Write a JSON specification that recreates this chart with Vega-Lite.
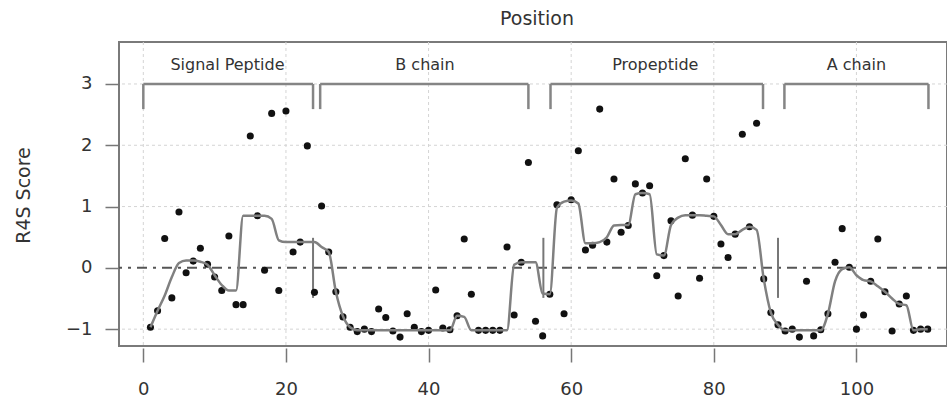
{
  "$schema": "https://vega.github.io/schema/vega-lite/v6.json",
  "width": 828,
  "height": 304,
  "autosize": {"type": "none"},
  "padding": {"left": 119, "top": 42, "right": 0, "bottom": 52},
  "config": {
    "font": "DejaVu Sans",
    "view": {"stroke": "#7a7a7a", "strokeWidth": 2}
  },
  "title": {
    "text": "Position",
    "anchor": "middle",
    "frame": "group",
    "orient": "top",
    "offset": -2,
    "dx": 4,
    "baseline": "alphabetic",
    "fontSize": 19,
    "fontWeight": "normal",
    "color": "#333333"
  },
  "datasets": {
    "r4s": [
      {"pos": 1, "score": -0.97, "smooth": -0.97},
      {"pos": 2, "score": -0.70, "smooth": -0.70},
      {"pos": 3, "score": 0.48, "smooth": -0.45},
      {"pos": 4, "score": -0.49, "smooth": -0.15},
      {"pos": 5, "score": 0.91, "smooth": 0.08},
      {"pos": 6, "score": -0.08, "smooth": 0.12},
      {"pos": 7, "score": 0.11, "smooth": 0.12},
      {"pos": 8, "score": 0.32, "smooth": 0.10},
      {"pos": 9, "score": 0.06, "smooth": 0.05},
      {"pos": 10, "score": -0.15, "smooth": -0.12},
      {"pos": 11, "score": -0.37, "smooth": -0.28},
      {"pos": 12, "score": 0.52, "smooth": -0.37},
      {"pos": 13, "score": -0.60, "smooth": -0.37},
      {"pos": 14, "score": -0.60, "smooth": 0.85},
      {"pos": 15, "score": 2.15, "smooth": 0.85},
      {"pos": 16, "score": 0.85, "smooth": 0.85},
      {"pos": 17, "score": -0.04, "smooth": 0.85},
      {"pos": 18, "score": 2.52, "smooth": 0.80},
      {"pos": 19, "score": -0.37, "smooth": 0.45},
      {"pos": 20, "score": 2.56, "smooth": 0.42},
      {"pos": 21, "score": 0.26, "smooth": 0.42},
      {"pos": 22, "score": 0.42, "smooth": 0.42},
      {"pos": 23, "score": 1.99, "smooth": 0.42},
      {"pos": 24, "score": -0.40, "smooth": 0.42},
      {"pos": 25, "score": 1.01, "smooth": 0.34},
      {"pos": 26, "score": 0.26, "smooth": 0.26},
      {"pos": 27, "score": -0.39, "smooth": -0.39},
      {"pos": 28, "score": -0.80, "smooth": -0.79},
      {"pos": 29, "score": -0.97, "smooth": -0.97},
      {"pos": 30, "score": -1.04, "smooth": -1.02},
      {"pos": 31, "score": -1.00, "smooth": -1.02},
      {"pos": 32, "score": -1.04, "smooth": -1.02},
      {"pos": 33, "score": -0.67, "smooth": -1.02},
      {"pos": 34, "score": -0.81, "smooth": -1.02},
      {"pos": 35, "score": -1.03, "smooth": -1.02},
      {"pos": 36, "score": -1.13, "smooth": -1.02},
      {"pos": 37, "score": -0.75, "smooth": -1.02},
      {"pos": 38, "score": -0.97, "smooth": -1.02},
      {"pos": 39, "score": -1.04, "smooth": -1.02},
      {"pos": 40, "score": -1.02, "smooth": -1.02},
      {"pos": 41, "score": -0.36, "smooth": -1.02},
      {"pos": 42, "score": -0.98, "smooth": -1.02},
      {"pos": 43, "score": -1.01, "smooth": -1.02},
      {"pos": 44, "score": -0.78, "smooth": -0.78},
      {"pos": 45, "score": 0.47, "smooth": -0.80},
      {"pos": 46, "score": -0.43, "smooth": -1.02},
      {"pos": 47, "score": -1.02, "smooth": -1.02},
      {"pos": 48, "score": -1.02, "smooth": -1.02},
      {"pos": 49, "score": -1.02, "smooth": -1.02},
      {"pos": 50, "score": -1.02, "smooth": -1.02},
      {"pos": 51, "score": 0.34, "smooth": -1.02},
      {"pos": 52, "score": -0.77, "smooth": 0.05},
      {"pos": 53, "score": 0.09, "smooth": 0.09},
      {"pos": 54, "score": 1.72, "smooth": 0.09},
      {"pos": 55, "score": -0.87, "smooth": 0.09},
      {"pos": 56, "score": -1.11, "smooth": -0.42},
      {"pos": 57, "score": -0.43, "smooth": -0.43},
      {"pos": 58, "score": 1.03, "smooth": 0.98},
      {"pos": 59, "score": -0.75, "smooth": 1.08},
      {"pos": 60, "score": 1.11, "smooth": 1.10},
      {"pos": 61, "score": 1.91, "smooth": 1.05},
      {"pos": 62, "score": 0.29, "smooth": 0.40},
      {"pos": 63, "score": 0.37, "smooth": 0.40},
      {"pos": 64, "score": 2.59, "smooth": 0.42},
      {"pos": 65, "score": 0.42, "smooth": 0.50},
      {"pos": 66, "score": 1.45, "smooth": 0.69},
      {"pos": 67, "score": 0.58, "smooth": 0.70},
      {"pos": 68, "score": 0.69, "smooth": 0.70},
      {"pos": 69, "score": 1.37, "smooth": 1.20},
      {"pos": 70, "score": 1.22, "smooth": 1.22},
      {"pos": 71, "score": 1.34, "smooth": 1.20},
      {"pos": 72, "score": -0.13, "smooth": 0.22},
      {"pos": 73, "score": 0.20, "smooth": 0.20},
      {"pos": 74, "score": 0.77, "smooth": 0.70},
      {"pos": 75, "score": -0.46, "smooth": 0.82},
      {"pos": 76, "score": 1.78, "smooth": 0.86},
      {"pos": 77, "score": 0.86, "smooth": 0.86},
      {"pos": 78, "score": -0.17, "smooth": 0.86},
      {"pos": 79, "score": 1.45, "smooth": 0.85},
      {"pos": 80, "score": 0.84, "smooth": 0.84},
      {"pos": 81, "score": 0.39, "smooth": 0.70},
      {"pos": 82, "score": 0.17, "smooth": 0.55},
      {"pos": 83, "score": 0.55, "smooth": 0.55},
      {"pos": 84, "score": 2.18, "smooth": 0.62},
      {"pos": 85, "score": 0.67, "smooth": 0.67},
      {"pos": 86, "score": 2.36, "smooth": 0.62},
      {"pos": 87, "score": -0.18, "smooth": -0.18},
      {"pos": 88, "score": -0.73, "smooth": -0.73},
      {"pos": 89, "score": -0.93, "smooth": -0.93},
      {"pos": 90, "score": -1.03, "smooth": -1.02},
      {"pos": 91, "score": -1.00, "smooth": -1.02},
      {"pos": 92, "score": -1.13, "smooth": -1.02},
      {"pos": 93, "score": -0.22, "smooth": -1.02},
      {"pos": 94, "score": -1.11, "smooth": -1.02},
      {"pos": 95, "score": -1.01, "smooth": -1.02},
      {"pos": 96, "score": -0.75, "smooth": -0.75},
      {"pos": 97, "score": 0.09, "smooth": -0.22},
      {"pos": 98, "score": 0.64, "smooth": -0.02},
      {"pos": 99, "score": 0.01, "smooth": 0.01},
      {"pos": 100, "score": -1.00, "smooth": -0.12},
      {"pos": 101, "score": -0.77, "smooth": -0.20},
      {"pos": 102, "score": -0.22, "smooth": -0.22},
      {"pos": 103, "score": 0.47, "smooth": -0.30},
      {"pos": 104, "score": -0.39, "smooth": -0.39},
      {"pos": 105, "score": -1.03, "smooth": -0.50},
      {"pos": 106, "score": -0.59, "smooth": -0.59},
      {"pos": 107, "score": -0.46, "smooth": -0.61},
      {"pos": 108, "score": -1.02, "smooth": -1.02},
      {"pos": 109, "score": -1.00, "smooth": -1.00},
      {"pos": 110, "score": -1.00, "smooth": -1.00}
    ],
    "regions": [
      {"region": "Signal Peptide", "start": 0, "end": 23.8, "mid": 11.8},
      {"region": "B chain", "start": 24.8, "end": 54, "mid": 39.5},
      {"region": "Propeptide", "start": 57.1, "end": 86.9, "mid": 71.8},
      {"region": "A chain", "start": 89.9, "end": 110.1, "mid": 100}
    ],
    "boundaries": [
      {"boundary": 23.8},
      {"boundary": 56.1},
      {"boundary": 89.0}
    ],
    "gridx": [
      {"gx": 0}, {"gx": 20}, {"gx": 40}, {"gx": 60}, {"gx": 80}, {"gx": 100}
    ],
    "gridy": [
      {"gy": -1}, {"gy": 1}, {"gy": 2}, {"gy": 3}
    ],
    "zero": [
      {"ref": 0}
    ]
  },
  "layer": [
    {
      "data": {"name": "gridx"},
      "mark": {"type": "rule", "color": "#d4d4d4", "strokeWidth": 1, "strokeDash": [3, 3]},
      "encoding": {
        "x": {"field": "gx", "type": "quantitative", "scale": {"domain": [-3.41, 112.7], "nice": false, "zero": false}}
      }
    },
    {
      "data": {"name": "gridy"},
      "mark": {"type": "rule", "color": "#d4d4d4", "strokeWidth": 1, "strokeDash": [3, 3]},
      "encoding": {
        "y": {"field": "gy", "type": "quantitative", "scale": {"domain": [-1.275, 3.685], "nice": false, "zero": false}}
      }
    },
    {
      "data": {"name": "zero"},
      "mark": {"type": "rule", "color": "#555555", "strokeWidth": 2, "strokeDash": [10, 6, 3, 6]},
      "encoding": {
        "y": {"field": "ref", "type": "quantitative", "scale": {"domain": [-1.275, 3.685], "nice": false, "zero": false}}
      }
    },
    {
      "data": {"name": "regions"},
      "mark": {"type": "rule", "color": "#858585", "strokeWidth": 2.5},
      "encoding": {
        "x": {"field": "start", "type": "quantitative", "scale": {"domain": [-3.41, 112.7], "nice": false, "zero": false}},
        "x2": {"field": "end"},
        "y": {"datum": 3, "type": "quantitative", "scale": {"domain": [-1.275, 3.685], "nice": false, "zero": false}}
      }
    },
    {
      "data": {"name": "regions"},
      "mark": {"type": "rule", "color": "#858585", "strokeWidth": 2.5},
      "encoding": {
        "x": {"field": "start", "type": "quantitative", "scale": {"domain": [-3.41, 112.7], "nice": false, "zero": false}},
        "y": {"datum": 3, "type": "quantitative", "scale": {"domain": [-1.275, 3.685], "nice": false, "zero": false}},
        "y2": {"datum": 2.59}
      }
    },
    {
      "data": {"name": "regions"},
      "mark": {"type": "rule", "color": "#858585", "strokeWidth": 2.5},
      "encoding": {
        "x": {"field": "end", "type": "quantitative", "scale": {"domain": [-3.41, 112.7], "nice": false, "zero": false}},
        "y": {"datum": 3, "type": "quantitative", "scale": {"domain": [-1.275, 3.685], "nice": false, "zero": false}},
        "y2": {"datum": 2.59}
      }
    },
    {
      "data": {"name": "regions"},
      "mark": {"type": "text", "fontSize": 16, "color": "#333333", "baseline": "alphabetic", "align": "center"},
      "encoding": {
        "x": {"field": "mid", "type": "quantitative", "scale": {"domain": [-3.41, 112.7], "nice": false, "zero": false}},
        "y": {"datum": 3.23, "type": "quantitative", "scale": {"domain": [-1.275, 3.685], "nice": false, "zero": false}},
        "text": {"field": "region"}
      }
    },
    {
      "data": {"name": "boundaries"},
      "mark": {"type": "rule", "color": "#777777", "strokeWidth": 2},
      "encoding": {
        "x": {"field": "boundary", "type": "quantitative", "scale": {"domain": [-3.41, 112.7], "nice": false, "zero": false}},
        "y": {"datum": -0.49, "type": "quantitative", "scale": {"domain": [-1.275, 3.685], "nice": false, "zero": false}},
        "y2": {"datum": 0.49}
      }
    },
    {
      "data": {"name": "r4s"},
      "mark": {"type": "point", "filled": true, "color": "#111111", "size": 50, "opacity": 1, "strokeWidth": 0},
      "encoding": {
        "x": {
          "field": "pos", "type": "quantitative",
          "scale": {"domain": [-3.41, 112.7], "nice": false, "zero": false},
          "axis": {
            "values": [0, 20, 40, 60, 80, 100],
            "format": "d",
            "title": "",
            "domain": false,
            "grid": false,
            "offset": 2,
            "tickSize": 14,
            "tickColor": "#777777",
            "tickWidth": 1.5,
            "labelFontSize": 18,
            "labelColor": "#333333",
            "labelPadding": 18
          }
        },
        "y": {
          "field": "score", "type": "quantitative",
          "scale": {"domain": [-1.275, 3.685], "nice": false, "zero": false},
          "axis": {
            "values": [-1, 0, 1, 2, 3],
            "format": "d",
            "title": "R4S Score",
            "domain": false,
            "grid": false,
            "tickSize": 14,
            "tickColor": "#777777",
            "tickWidth": 1.5,
            "labelFontSize": 18,
            "labelColor": "#333333",
            "labelPadding": 13,
            "titleFontSize": 19,
            "titleFontWeight": "normal",
            "titleColor": "#333333",
            "titleAngle": -90,
            "titleX": -96,
            "titleY": 153,
            "titleAlign": "center",
            "titleBaseline": "middle"
          }
        }
      }
    },
    {
      "data": {"name": "r4s"},
      "mark": {"type": "line", "color": "#808080", "strokeWidth": 2.5, "interpolate": "monotone"},
      "encoding": {
        "x": {"field": "pos", "type": "quantitative", "scale": {"domain": [-3.41, 112.7], "nice": false, "zero": false}},
        "y": {"field": "smooth", "type": "quantitative", "scale": {"domain": [-1.275, 3.685], "nice": false, "zero": false}}
      }
    }
  ]
}
